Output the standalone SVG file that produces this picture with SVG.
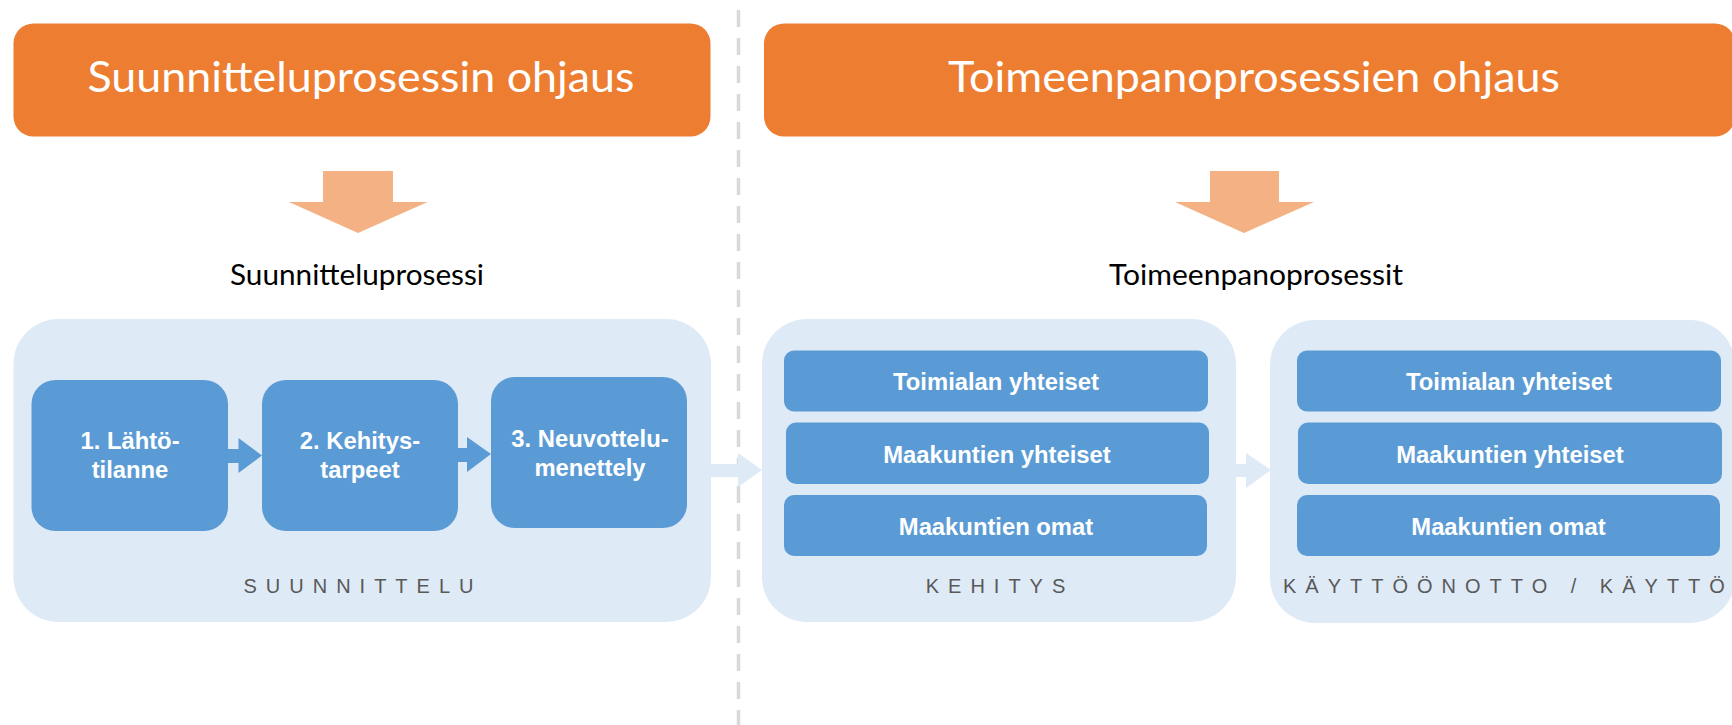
<svg xmlns="http://www.w3.org/2000/svg" width="1732" height="725" viewBox="0 0 1732 725">
<style>
.title{font-family:Lato,"Open Sans",sans-serif;font-size:42px;fill:#ffffff;text-anchor:middle}
.sub{font-family:Lato,"Open Sans",sans-serif;font-size:28px;fill:#000000;text-anchor:middle}
.orange{fill:#ED7D31}
.down{fill:#F4B183}
.panel{fill:#DEEAF6}
.step{fill:#5B9BD5}
.btxt{font-family:"Liberation Sans",Arial,sans-serif;font-weight:bold;font-size:23.8px;fill:#ffffff;text-anchor:middle}
.plabel{font-family:"Liberation Sans",Arial,sans-serif;font-size:20px;fill:#595959;letter-spacing:9px}
.sarrow{fill:#5B9BD5}
.larrow{fill:#DEEAF6}
</style>
<rect width="1732" height="725" fill="#ffffff"/>
<g id="divider">
<line x1="738.5" y1="10" x2="738.5" y2="725" stroke="#D9D9D9" stroke-width="3.5" stroke-dasharray="17 11"/>
</g>
<g id="title-suunnittelu">
<rect class="orange" x="13.5" y="23.5" width="697" height="113" rx="20"/>
<text class="title" x="361" y="92" textLength="547" lengthAdjust="spacingAndGlyphs">Suunnitteluprosessin ohjaus</text>
</g>
<g id="title-toimeenpano">
<rect class="orange" x="764" y="23.5" width="971" height="113" rx="20"/>
<text class="title" x="1254" y="92" textLength="612" lengthAdjust="spacingAndGlyphs">Toimeenpanoprosessien ohjaus</text>
</g>
<g id="down-arrow-1">
<polygon class="down" points="323,171 393,171 393,202 427.5,202 358,233 289,202 323,202"/>
</g>
<g id="down-arrow-2">
<polygon class="down" points="1210,171 1279,171 1279,202 1314,202 1244,233 1175,202 1210,202"/>
</g>
<g id="label-suunnitteluprosessi">
<text class="sub" x="357" y="285" textLength="254" lengthAdjust="spacingAndGlyphs">Suunnitteluprosessi</text>
</g>
<g id="label-toimeenpanoprosessit">
<text class="sub" x="1256" y="285" textLength="294" lengthAdjust="spacingAndGlyphs">Toimeenpanoprosessit</text>
</g>
<g id="panel-suunnittelu">
<rect class="panel" x="13.5" y="319" width="697.5" height="303" rx="45"/>
<text class="plabel" x="363" y="593" text-anchor="middle">SUUNNITTELU</text>
</g>
<g id="panel-kehitys">
<rect class="panel" x="762" y="319" width="474" height="303" rx="45"/>
<text class="plabel" x="1000" y="593" text-anchor="middle">KEHITYS</text>
</g>
<g id="panel-kaytto">
<rect class="panel" x="1270" y="320" width="465" height="303" rx="45"/>
<text class="plabel" x="1283" y="593">KÄYTTÖÖNOTTO / KÄYTTÖ</text>
</g>
<g id="connectors">
<polygon class="larrow" points="709,464 738,464 738,453 762,470 738,487 738,477 709,477"/>
<polygon class="larrow" points="1234,464 1246,464 1246,453 1271,470 1246,488 1246,477 1234,477"/>
<polygon class="sarrow" points="227,449 238.5,449 238.5,438 262,455.5 238.5,473 238.5,463 227,463"/>
<polygon class="sarrow" points="457,448 467,448 467,437 491,454 467,472 467,462 457,462"/>
</g>
<g id="step-1">
<rect class="step" x="31.5" y="380" width="196.5" height="151" rx="24"/>
<text class="btxt" x="130" y="449">1. Lähtö-</text>
<text class="btxt" x="130" y="478">tilanne</text>
</g>
<g id="step-2">
<rect class="step" x="262" y="380" width="196" height="151" rx="24"/>
<text class="btxt" x="360" y="449">2. Kehitys-</text>
<text class="btxt" x="360" y="478">tarpeet</text>
</g>
<g id="step-3">
<rect class="step" x="491" y="377" width="196" height="151" rx="24"/>
<text class="btxt" x="590" y="446.5">3. Neuvottelu-</text>
<text class="btxt" x="590" y="475.5">menettely</text>
</g>
<g id="kehitys-toimialan">
<rect class="step" x="784" y="350.5" width="424" height="61" rx="10"/>
<text class="btxt" x="996" y="390">Toimialan yhteiset</text>
</g>
<g id="kehitys-maakuntien-yhteiset">
<rect class="step" x="786" y="422.5" width="423" height="61.5" rx="10"/>
<text class="btxt" x="997" y="462.5">Maakuntien yhteiset</text>
</g>
<g id="kehitys-maakuntien-omat">
<rect class="step" x="784" y="495" width="423" height="61" rx="10"/>
<text class="btxt" x="996" y="535">Maakuntien omat</text>
</g>
<g id="kaytto-toimialan">
<rect class="step" x="1297" y="350.5" width="424" height="61" rx="10"/>
<text class="btxt" x="1509" y="390">Toimialan yhteiset</text>
</g>
<g id="kaytto-maakuntien-yhteiset">
<rect class="step" x="1298" y="422.5" width="424" height="61.5" rx="10"/>
<text class="btxt" x="1510" y="462.5">Maakuntien yhteiset</text>
</g>
<g id="kaytto-maakuntien-omat">
<rect class="step" x="1297" y="495" width="423" height="61" rx="10"/>
<text class="btxt" x="1508.5" y="535">Maakuntien omat</text>
</g>
</svg>
